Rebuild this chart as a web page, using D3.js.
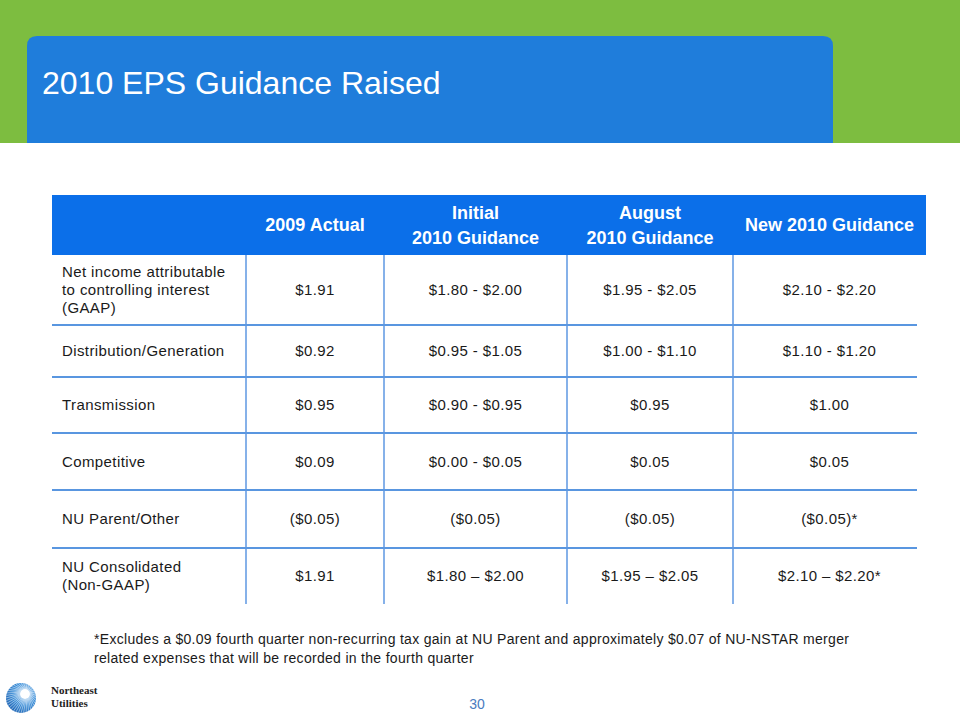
<!DOCTYPE html>
<html>
<head>
<meta charset="utf-8">
<script src="https://cdn.jsdelivr.net/npm/d3@7"></script>
<style>
  html, body { margin: 0; padding: 0; background: #fff; }
  svg { display: block; font-family: "Liberation Sans", Arial, sans-serif; }
</style>
</head>
<body>
<div id="slide"></div>
<script>
// table data
const columns = ["", "2009 Actual", "Initial\n2010 Guidance", "August\n2010 Guidance", "New 2010 Guidance"];
const rowLabels = [
  "Net income attributable\nto controlling interest\n(GAAP)",
  "Distribution/Generation",
  "Transmission",
  "Competitive",
  "NU Parent/Other",
  "NU Consolidated\n(Non-GAAP)"
];
const actual2009 = ["$1.91", "$0.92", "$0.95", "$0.09", "($0.05)", "$1.91"];
const initial2010 = ["$1.80 - $2.00", "$0.95 - $1.05", "$0.90 - $0.95", "$0.00 - $0.05", "($0.05)", "$1.80 \u2013 $2.00"];
const august2010 = ["$1.95 - $2.05", "$1.00 - $1.10", "$0.95", "$0.05", "($0.05)", "$1.95 \u2013 $2.05"];
const new2010 = ["$2.10 - $2.20", "$1.10 - $1.20", "$1.00", "$0.05", "($0.05)*", "$2.10 \u2013 $2.20*"];
const title = "2010 EPS Guidance Raised";
const footnote = [
  "*Excludes a $0.09 fourth quarter non-recurring tax gain at NU Parent and approximately $0.07 of NU-NSTAR merger",
  "related expenses that will be recorded in the fourth quarter"
];
const logoText = ["Northeast", "Utilities"];
const pageNumber = "30";

const W = 960, H = 720;
const svg = d3.select("#slide").append("svg")
  .attr("width", W).attr("height", H)
  .attr("viewBox", `0 0 ${W} ${H}`);

// background bands
svg.append("rect").attr("x", 0).attr("y", 0).attr("width", W).attr("height", 143).attr("fill", "#7dbd40");
svg.append("path")
  .attr("d", "M27,143 V46 Q27,36 37,36 H823 Q833,36 833,46 V143 Z")
  .attr("fill", "#1f7ddb");
svg.append("text")
  .attr("x", 42).attr("y", 94)
  .attr("fill", "#fff")
  .style("font-size", "32px")
  .text(title);

// table layout
const colEdges = [52, 246, 384, 567, 733, 926];
const rowEdges = [255, 325, 377, 433, 490, 548, 604];
const headerTop = 195;

const colScale = d3.scaleOrdinal().domain(d3.range(columns.length)).range(colEdges.slice(0, -1));
const colCenter = i => (colEdges[i] + colEdges[i + 1]) / 2;
const rowMid = i => (rowEdges[i] + rowEdges[i + 1]) / 2;

const table = svg.append("g");

// header
table.append("rect")
  .attr("x", colEdges[0]).attr("y", headerTop)
  .attr("width", colEdges[colEdges.length - 1] - colEdges[0])
  .attr("height", rowEdges[0] - headerTop)
  .attr("fill", "#0b6fe9");

columns.forEach((c, i) => {
  if (!c) return;
  const lines = c.split("\n");
  const mid = (headerTop + rowEdges[0]) / 2;
  const lh = 25;
  const t = table.append("text")
    .attr("text-anchor", "middle")
    .attr("fill", "#fff")
    .style("font-size", "18px")
    .style("font-weight", "bold");
  lines.forEach((ln, k) => {
    t.append("tspan")
      .attr("x", colCenter(i))
      .attr("y", mid + (k - (lines.length - 1) / 2) * lh + 6)
      .text(ln);
  });
});

// grid lines
rowEdges.slice(1, -1).forEach(y => {
  table.append("line")
    .attr("x1", colEdges[0]).attr("x2", 917)
    .attr("y1", y).attr("y2", y)
    .attr("stroke", "#2273d6").attr("stroke-width", 1.5);
});
colEdges.slice(1, -1).forEach(x => {
  table.append("line")
    .attr("x1", x).attr("x2", x)
    .attr("y1", rowEdges[0]).attr("y2", rowEdges[rowEdges.length - 1])
    .attr("stroke", "#5e97e2").attr("stroke-width", 1.5);
});

// cells
const valueCols = [actual2009, initial2010, august2010, new2010];
rowLabels.forEach((lab, r) => {
  const lines = lab.split("\n");
  const lh = 18;
  const t = table.append("text")
    .attr("fill", "#1a1a1a")
    .style("font-size", "15px")
    .style("letter-spacing", "0.4px");
  lines.forEach((ln, k) => {
    t.append("tspan")
      .attr("x", colScale(0) + 10)
      .attr("y", rowMid(r) + (k - (lines.length - 1) / 2) * lh + 5)
      .text(ln);
  });
  valueCols.forEach((vals, c) => {
    table.append("text")
      .attr("x", colCenter(c + 1))
      .attr("y", rowMid(r) + 5)
      .attr("text-anchor", "middle")
      .attr("fill", "#1a1a1a")
      .style("font-size", "15px")
      .style("letter-spacing", "0.4px")
      .text(vals[r]);
  });
});

// footnote
footnote.forEach((ln, k) => {
  svg.append("text")
    .attr("x", 94).attr("y", 644 + k * 19)
    .attr("fill", "#1a1a1a")
    .style("font-size", "14px")
    .style("letter-spacing", "0.3px")
    .text(ln);
});

svg.append("text")
  .attr("x", 477).attr("y", 709)
  .attr("text-anchor", "middle")
  .attr("fill", "#4a7cc0")
  .style("font-size", "14px")
  .text(pageNumber);

// logo
const logo = svg.append("g").attr("transform", "translate(21,698)");
const grad = svg.append("defs").append("radialGradient")
  .attr("id", "sph").attr("cx", "0.65").attr("cy", "0.35").attr("r", "0.8");
grad.append("stop").attr("offset", "0").attr("stop-color", "#cfe6fb");
grad.append("stop").attr("offset", "0.5").attr("stop-color", "#3d8fd8");
grad.append("stop").attr("offset", "1").attr("stop-color", "#1d5fae");
logo.append("circle").attr("r", 15).attr("fill", "url(#sph)");
d3.range(36).forEach(i => {
  const a = i / 36 * Math.PI * 2;
  logo.append("line")
    .attr("x1", 4 + Math.cos(a) * 5).attr("y1", -4 + Math.sin(a) * 5)
    .attr("x2", Math.cos(a) * 15).attr("y2", Math.sin(a) * 15)
    .attr("stroke", "#fff").attr("stroke-width", 0.6).attr("opacity", 0.8);
});
logo.append("circle").attr("cx", 4).attr("cy", -4).attr("r", 5).attr("fill", "#fff");
logoText.forEach((ln, k) => {
  svg.append("text").attr("x", 51).attr("y", 694 + k * 13)
    .style("font-family", "'Liberation Serif', serif").style("font-weight", "bold").style("font-size", "11px")
    .attr("fill", "#222").text(ln);
});
</script>
</body>
</html>
